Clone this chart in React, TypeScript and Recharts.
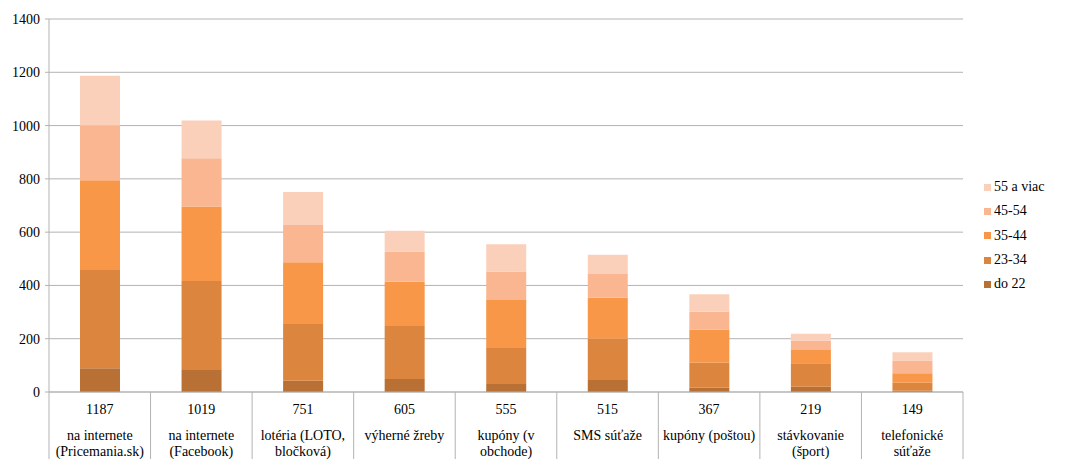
import React from "react";
import { BarChart, Bar, XAxis, YAxis, CartesianGrid } from "recharts";

const categoryLines: string[][] = [
  ["na internete", "(Pricemania.sk)"],
  ["na internete", "(Facebook)"],
  ["lotéria (LOTO,", "bločková)"],
  ["výherné žreby"],
  ["kupóny (v", "obchode)"],
  ["SMS súťaže"],
  ["kupóny (poštou)"],
  ["stávkovanie", "(šport)"],
  ["telefonické", "súťaže"],
];
const totals = [1187, 1019, 751, 605, 555, 515, 367, 219, 149];
const do22 = [89, 83, 42, 49, 30, 45, 16, 20, 5];
const age23_34 = [369, 334, 213, 199, 135, 155, 94, 88, 30];
const age35_44 = [337, 279, 232, 166, 180, 154, 124, 50, 35];
const age45_54 = [205, 181, 140, 113, 107, 89, 67, 35, 48];
const age55 = [187, 142, 124, 78, 103, 72, 66, 26, 31];
const yTicks = [0, 200, 400, 600, 800, 1000, 1200, 1400];

const seriesNames = ["do 22", "23-34", "35-44", "45-54", "55 a viac"];
const seriesColors = ["#B97034", "#DC853F", "#F79747", "#F9B691", "#FBD0BA"];

const data = categoryLines.map((lines, i) => ({
  name: lines.join(" "),
  s0: do22[i],
  s1: age23_34[i],
  s2: age35_44[i],
  s3: age45_54[i],
  s4: age55[i],
}));

const FONT = "'Times New Roman', Times, 'Liberation Serif', 'DejaVu Serif', 'Noto Serif', serif";
const GRID = "#B3B3B3";

const TableTick = (props: any) => {
  const { x, y, payload, index, width, visibleTicksCount } = props;
  const half =
    payload && payload.offset ? payload.offset : width / visibleTicksCount / 2;
  const i = index;
  const lines = categoryLines[i] || [];
  return (
    <g>
      <line x1={x - half} y1={y} x2={x - half} y2={y + 70} stroke={GRID} strokeWidth={1} />
      {i === visibleTicksCount - 1 && (
        <line x1={x + half} y1={y} x2={x + half} y2={y + 70} stroke={GRID} strokeWidth={1} />
      )}
      <text x={x} y={y + 22} textAnchor="middle" fontSize={14} fontFamily={FONT} fill="#000">
        {totals[i]}
      </text>
      {lines.map((l, k) => (
        <text key={k} x={x} y={y + 48 + k * 16} textAnchor="middle" fontSize={14} fontFamily={FONT} fill="#000">
          {l}
        </text>
      ))}
    </g>
  );
};

export default function App() {
  const order = [4, 3, 2, 1, 0];
  return (
    <div style={{ position: "absolute", left: 0, top: 0, width: 1073, height: 459, background: "#fff", fontFamily: FONT }}>
      <BarChart
        width={1073}
        height={459}
        data={data}
        margin={{ top: 19, right: 110, bottom: 0, left: 0 }}
      >
        <CartesianGrid vertical={false} stroke={GRID} strokeWidth={1} />
        <YAxis
          width={49}
          domain={[0, 1400]}
          ticks={yTicks}
          interval={0}
          axisLine={{ stroke: GRID }}
          tickLine={{ stroke: GRID }}
          tickSize={4}
          tickMargin={5}
          tick={{ fontSize: 14, fill: "#000", fontFamily: FONT }}
        />
        <XAxis
          dataKey="name"
          height={67}
          interval={0}
          axisLine={{ stroke: GRID }}
          tickLine={false}
          tickSize={0}
          tickMargin={0}
          tick={<TableTick />}
        />
        {["s0", "s1", "s2", "s3", "s4"].map((k, i) => (
          <Bar
            key={k}
            dataKey={k}
            name={seriesNames[i]}
            stackId="a"
            fill={seriesColors[i]}
            barSize={40}
            isAnimationActive={false}
          />
        ))}
      </BarChart>
      <div style={{ position: "absolute", left: 984, top: 175, fontFamily: FONT, fontSize: 14, color: "#000" }}>
        {order.map((k) => (
          <div key={k} style={{ display: "flex", alignItems: "center", height: 24.3 }}>
            <span style={{ width: 7, height: 7, background: seriesColors[k], display: "inline-block", marginRight: 3 }} />
            <span>{seriesNames[k]}</span>
          </div>
        ))}
      </div>
    </div>
  );
}
